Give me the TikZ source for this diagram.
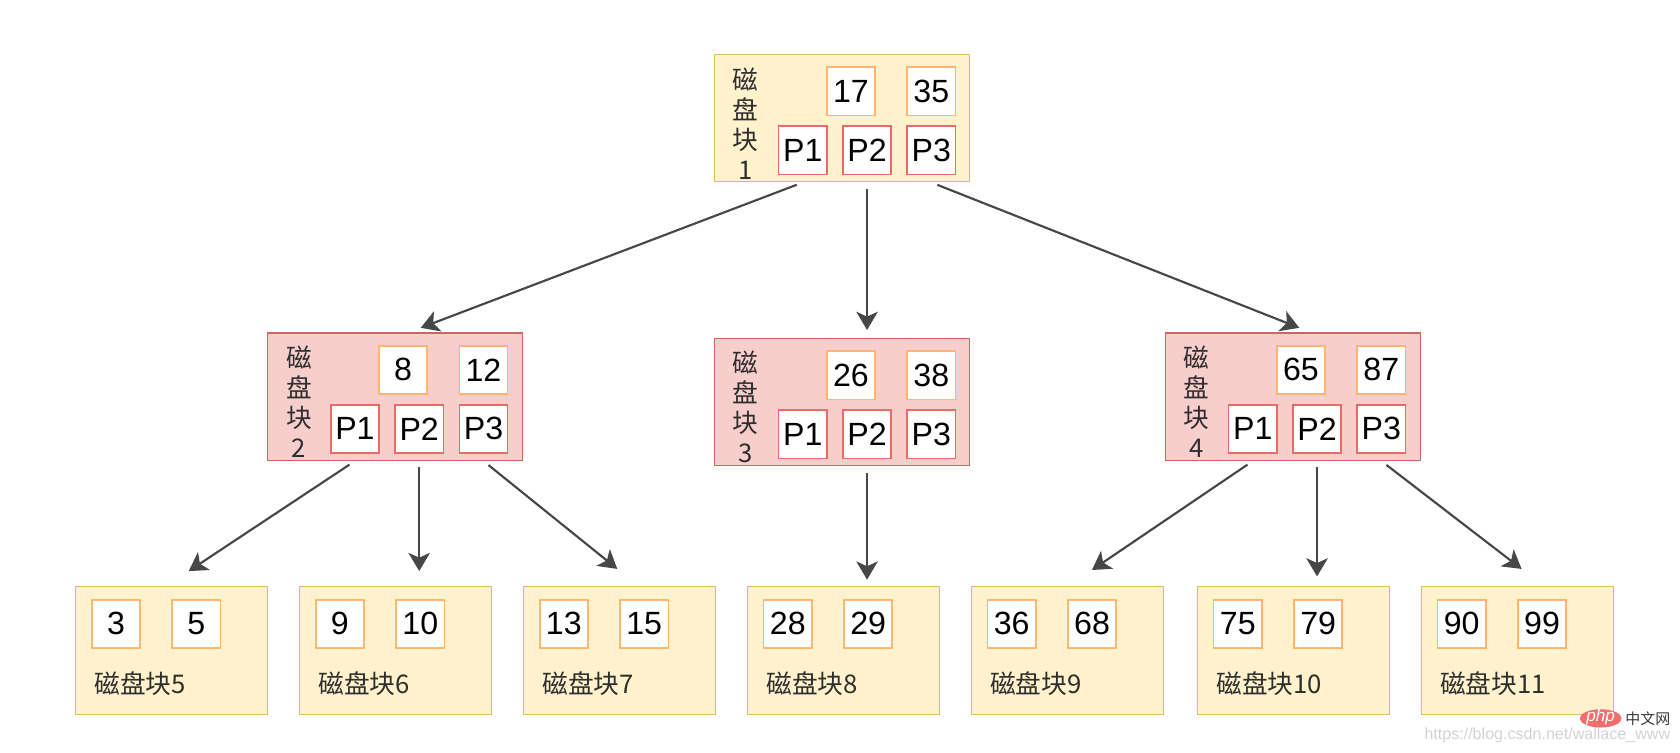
\documentclass[tikz,border=0pt]{standalone}
\usepackage{fontspec}
\setmainfont{Liberation Sans}
\newfontfamily\cjk{Noto Sans CJK SC}
\usetikzlibrary{arrows.meta}
\usetikzlibrary{positioning}

\definecolor{yfill}{HTML}{FFF2CC}
\definecolor{ydraw}{HTML}{DDBE60}
\definecolor{rfill}{HTML}{F8CECC}
\definecolor{rdraw}{HTML}{CC6661}
\definecolor{keyline}{HTML}{FFB570}
\definecolor{ptrline}{HTML}{EA6B66}
\definecolor{arrgray}{HTML}{474747}
\definecolor{labelgray}{HTML}{2E2E2E}
\definecolor{phpred}{HTML}{F26D6D}
\definecolor{wmgray}{HTML}{3A3A3A}
\definecolor{urlgray}{HTML}{D2D2D2}

\tikzset{
    diskY/.style={draw=ydraw, fill=yfill, line width=1.3pt, minimum width=238pt, minimum height=119pt, anchor=north west, inner sep=0pt},
    diskR/.style={diskY, draw=rdraw, fill=rfill},
    leaf/.style={diskY, minimum width=179pt},
    keybox/.style={draw=keyline, fill=white, line width=1.5pt, minimum size=45pt, inner sep=0pt, font=\fontsize{30}{36}\selectfont},
    ptrbox/.style={keybox, draw=ptrline},
    vlabel/.style={align=center, inner sep=0pt, text=labelgray, font=\cjk\fontsize{24}{28}\selectfont},
    llabel/.style={inner sep=0pt, text=labelgray, font=\cjk\fontsize{24}{28}\selectfont},
    arr/.style={-{Stealth[length=17pt, width=20pt, inset=4.5pt]}, draw=arrgray, line width=2pt, shorten <=6pt}
}

\begin{document}
\begin{tikzpicture}[x=1pt, y=-1pt]
    \useasboundingbox (0,0) rectangle (1568,702);

    % root block
    \node[diskY] (b1) at (666,50) {};
    \node[vlabel, below right=65pt and 30pt of b1.north west, anchor=center] (b1t) {磁\\盘\\块\\1};
    \node[keybox, below right=12pt and 105pt of b1.north west] (b1k1) {17};
    \node[keybox, right=28.5pt of b1k1] (b1k2) {35};
    \node[ptrbox, below right=67pt and 60pt of b1.north west] (b1p1) {P1};
    \node[ptrbox, right=13.5pt of b1p1] (b1p2) {P2};
    \node[ptrbox, right=13.5pt of b1p2] (b1p3) {P3};

    % second level
    \node[diskR] (b2) at (249,310) {};
    \node[vlabel, below right=65pt and 30pt of b2.north west, anchor=center] (b2t) {磁\\盘\\块\\2};
    \node[keybox, below right=12pt and 104pt of b2.north west] (b2k1) {8};
    \node[keybox, right=28.5pt of b2k1] (b2k2) {12};
    \node[ptrbox, below right=67pt and 59pt of b2.north west] (b2p1) {P1};
    \node[ptrbox, right=13.5pt of b2p1] (b2p2) {P2};
    \node[ptrbox, right=13.5pt of b2p2] (b2p3) {P3};

    \node[diskR] (b3) at (666,315) {};
    \node[vlabel, below right=65pt and 30pt of b3.north west, anchor=center] (b3t) {磁\\盘\\块\\3};
    \node[keybox, below right=12pt and 105pt of b3.north west] (b3k1) {26};
    \node[keybox, right=28.5pt of b3k1] (b3k2) {38};
    \node[ptrbox, below right=67pt and 60pt of b3.north west] (b3p1) {P1};
    \node[ptrbox, right=13.5pt of b3p1] (b3p2) {P2};
    \node[ptrbox, right=13.5pt of b3p2] (b3p3) {P3};

    \node[diskR] (b4) at (1087,310) {};
    \node[vlabel, below right=65pt and 30pt of b4.north west, anchor=center] (b4t) {磁\\盘\\块\\4};
    \node[keybox, below right=12pt and 104pt of b4.north west] (b4k1) {65};
    \node[keybox, right=28.5pt of b4k1] (b4k2) {87};
    \node[ptrbox, below right=67pt and 59pt of b4.north west] (b4p1) {P1};
    \node[ptrbox, right=13.5pt of b4p1] (b4p2) {P2};
    \node[ptrbox, right=13.5pt of b4p2] (b4p3) {P3};

    % leaves
    \node[leaf] (l5) at (70,547) {};
    \node[keybox, below right=12pt and 15pt of l5.north west] (l5k1) {3};
    \node[keybox, below right=12pt and 90pt of l5.north west] (l5k2) {5};
    \node[llabel, below right=91pt and 18pt of l5.north west, anchor=west] (l5t) {磁盘块5};

    \node[leaf] (l6) at (279,547) {};
    \node[keybox, below right=12pt and 15pt of l6.north west] (l6k1) {9};
    \node[keybox, below right=12pt and 90pt of l6.north west] (l6k2) {10};
    \node[llabel, below right=91pt and 18pt of l6.north west, anchor=west] (l6t) {磁盘块6};

    \node[leaf] (l7) at (488,547) {};
    \node[keybox, below right=12pt and 15pt of l7.north west] (l7k1) {13};
    \node[keybox, below right=12pt and 90pt of l7.north west] (l7k2) {15};
    \node[llabel, below right=91pt and 18pt of l7.north west, anchor=west] (l7t) {磁盘块7};

    \node[leaf] (l8) at (697,547) {};
    \node[keybox, below right=12pt and 15pt of l8.north west] (l8k1) {28};
    \node[keybox, below right=12pt and 90pt of l8.north west] (l8k2) {29};
    \node[llabel, below right=91pt and 18pt of l8.north west, anchor=west] (l8t) {磁盘块8};

    \node[leaf] (l9) at (906,547) {};
    \node[keybox, below right=12pt and 15pt of l9.north west] (l9k1) {36};
    \node[keybox, below right=12pt and 90pt of l9.north west] (l9k2) {68};
    \node[llabel, below right=91pt and 18pt of l9.north west, anchor=west] (l9t) {磁盘块9};

    \node[leaf] (l10) at (1117,547) {};
    \node[keybox, below right=12pt and 15pt of l10.north west] (l10k1) {75};
    \node[keybox, below right=12pt and 90pt of l10.north west] (l10k2) {79};
    \node[llabel, below right=91pt and 18pt of l10.north west, anchor=west] (l10t) {磁盘块10};

    \node[leaf] (l11) at (1326,547) {};
    \node[keybox, below right=12pt and 15pt of l11.north west] (l11k1) {90};
    \node[keybox, below right=12pt and 90pt of l11.north west] (l11k2) {99};
    \node[llabel, below right=91pt and 18pt of l11.north west, anchor=west] (l11t) {磁盘块11};

    % pointers
    \draw[arr] (b1p1 |- b1.south) -- ([xshift=24pt, yshift=4pt]b2.north);
    \draw[arr, shorten >=7pt] (b1p2 |- b1.south) -- (b1p2 |- b3.north);
    \draw[arr] (b1p3 |- b1.south) -- ([xshift=6pt, yshift=4pt]b4.north);

    \draw[arr] (b2p1 |- b2.south) -- ([xshift=16pt, yshift=14pt]l5.north);
    \draw[arr, shorten >=14pt] (b2p2 |- b2.south) -- (b2p2 |- l6.north);
    \draw[arr] (b2p3 |- b2.south) -- ([xshift=-2pt, yshift=16pt]l7.north);

    \draw[arr, shorten >=6pt] (b3p2 |- b3.south) -- (b3p2 |- l8.north);

    \draw[arr] (b4p1 |- b4.south) -- ([xshift=23pt, yshift=15pt]l9.north);
    \draw[arr, shorten >=9pt] (b4p2 |- b4.south) -- (b4p2 |- l10.north);
    \draw[arr] (b4p3 |- b4.south) -- ([xshift=4pt, yshift=16pt]l11.north);

    % watermark
    \fill[phpred] (1494,670.5) ellipse (19.5pt and 8.5pt);
    \node[text=white, inner sep=0pt, font=\fontsize{16}{16}\selectfont\itshape] (phplogo) at (1494,669) {php};
    \node[text=wmgray, inner sep=0pt, font=\cjk\fontsize{14}{14}\selectfont] (phpcn) at (1538,671) {中文网};
    \node[text=urlgray, inner sep=0pt, anchor=east, font=\fontsize{15}{15}\selectfont] (csdnurl) at (1559,686) {https://blog.csdn.net/wallace\_www};
\end{tikzpicture}
\end{document}
